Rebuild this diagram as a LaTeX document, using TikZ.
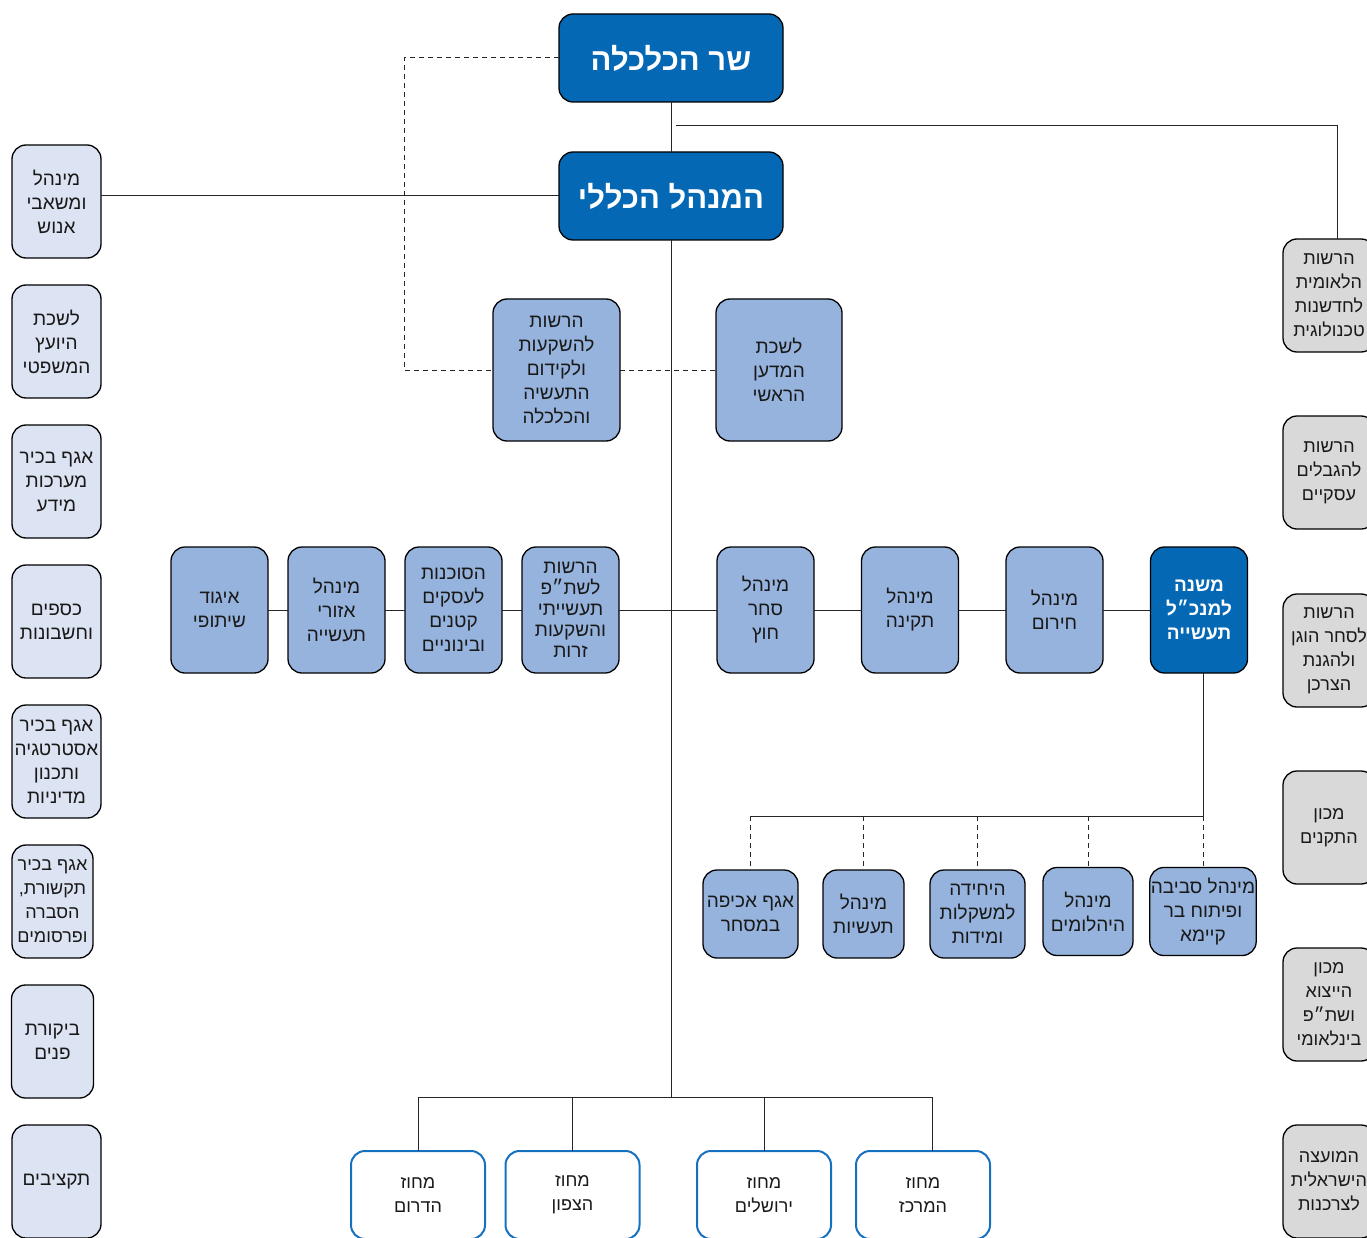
\documentclass[tikz,border=0pt]{standalone}
\usepackage{fontspec}
\usepackage{xcolor}
\usepackage{tikz}
\newfontfamily\hebfont[Script=Hebrew]{Liberation Sans}
\TeXXeTstate=1
\usetikzlibrary{positioning,calc}
\definecolor{deepblue}{HTML}{0468B4}
\definecolor{unitblue}{HTML}{95B3DC}
\definecolor{paleblue}{HTML}{DCE3F2}
\definecolor{palegray}{HTML}{D9D9D9}
\definecolor{rimblue}{HTML}{1570C0}
\newcommand{\rl}[1]{\beginR #1\endR}

\begin{document}
\begin{tikzpicture}[x=1pt,y=-1pt,
every node/.style={outer sep=0pt,inner sep=1pt,align=center},
box/.style={draw=black,line width=1.3pt,rounded corners=14pt,text=black!90,
  font=\hebfont\fontsize{19}{24}\selectfont},
headbox/.style={box,fill=deepblue,text=white,minimum width=224pt,minimum height=88pt,
  font=\hebfont\bfseries\fontsize{31}{36}\selectfont},
sidebox/.style={box,fill=paleblue,minimum width=89pt,minimum height=113pt},
extbox/.style={box,fill=palegray,minimum width=92pt,minimum height=113pt,
  font=\hebfont\fontsize{18}{24}\selectfont},
unitbox/.style={box,fill=unitblue,minimum width=97pt,minimum height=126pt},
subbox/.style={box,fill=unitblue,minimum height=88pt},
distbox/.style={box,draw=rimblue,line width=2pt,fill=white,minimum width=134pt,minimum height=88pt,
  font=\hebfont\fontsize{18}{24}\selectfont},
link/.style={line width=1pt,draw=black!85},
dotlink/.style={line width=1pt,draw=black!85,dash pattern=on 5pt off 4pt}]
\useasboundingbox (0,0) rectangle (1367,1238);
\clip (0,0) rectangle (1367,1238);

% top of the tree
\node (minister) [headbox] at (671,58) {\rl{שר הכלכלה}};
\node (dg) [headbox] at (671,196) {\rl{המנהל הכללי}};

% left column
\node (hr) [sidebox] at (56.5,201.5) {\rl{מינהל}\\\rl{ומשאבי}\\\rl{אנוש}};
\node (legal) [sidebox] at (56.5,341.5) {\rl{לשכת}\\\rl{היועץ}\\\rl{המשפטי}};
\node (infosys) [sidebox] at (56.5,481.5) {\rl{אגף בכיר}\\\rl{מערכות}\\\rl{מידע}};
\node (finance) [sidebox] at (56.5,621.5) {\rl{כספים}\\\rl{וחשבונות}};
\node (strategy) [sidebox] at (56.5,761.5) {\rl{אגף בכיר}\\\rl{אסטרטגיה}\\\rl{ותכנון}\\\rl{מדיניות}};
\node (comms) [sidebox,minimum width=81pt,font=\hebfont\fontsize{18}{24}\selectfont] at (52.5,901.5)
  {\rl{אגף בכיר}\\\rl{תקשורת,}\\\rl{הסברה}\\\rl{ופרסומים}};
\node (audit) [sidebox,minimum width=82pt] at (52.5,1041.5) {\rl{ביקורת}\\\rl{פנים}};
\node (budget) [sidebox] at (56.5,1181.5) {\rl{תקציבים}};

% right column
\node (innov) [extbox] at (1329,295.5) {\rl{הרשות}\\\rl{הלאומית}\\\rl{לחדשנות}\\\rl{טכנולוגית}};
\node (antitrust) [extbox] at (1329,472.5) {\rl{הרשות}\\\rl{להגבלים}\\\rl{עסקיים}};
\node (consumer) [extbox] at (1329,650.5) {\rl{הרשות}\\\rl{לסחר הוגן}\\\rl{ולהגנת}\\\rl{הצרכן}};
\node (sii) [extbox] at (1329,827.5) {\rl{מכון}\\\rl{התקנים}};
\node (export) [extbox] at (1329,1004.5) {\rl{מכון}\\\rl{הייצוא}\\\rl{ושת״פ}\\\rl{בינלאומי}};
\node (council) [extbox] at (1329,1181.5) {\rl{המועצה}\\\rl{הישראלית}\\\rl{לצרכנות}};

% staff units under the director general
\node (invest) [unitbox,minimum width=127pt,minimum height=142pt] at (556.5,370)
  {\rl{הרשות}\\\rl{להשקעות}\\\rl{ולקידום}\\\rl{התעשיה}\\\rl{והכלכלה}};
\node (scientist) [unitbox,minimum width=126pt,minimum height=142pt] at (779,370)
  {\rl{לשכת}\\\rl{המדען}\\\rl{הראשי}};

% middle row
\node (coop) [unitbox] at (219.5,610) {\rl{איגוד}\\\rl{שיתופי}};
\node (zones) [unitbox] at (336.5,610) {\rl{מינהל}\\\rl{אזורי}\\\rl{תעשייה}};
\node (smb) [unitbox] at (453.5,610) {\rl{הסוכנות}\\\rl{לעסקים}\\\rl{קטנים}\\\rl{ובינוניים}};
\node (fdi) [unitbox,font=\hebfont\fontsize{19}{21}\selectfont] at (570.5,610)
  {\rl{הרשות}\\\rl{לשת״פ}\\\rl{תעשייתי}\\\rl{והשקעות}\\\rl{זרות}};
\node (trade) [unitbox] at (765.5,610) {\rl{מינהל}\\\rl{סחר}\\\rl{חוץ}};
\node (standards) [unitbox] at (910,610) {\rl{מינהל}\\\rl{תקינה}};
\node (emergency) [unitbox] at (1054.5,610) {\rl{מינהל}\\\rl{חירום}};
\node (deputy) [unitbox,fill=deepblue,text=white,font=\hebfont\bfseries\fontsize{19}{24}\selectfont]
  at (1199,610) {\rl{משנה}\\\rl{למנכ״ל}\\\rl{תעשייה}};

% units under the deputy
\node (enforce) [subbox,minimum width=95pt] at (750.5,914) {\rl{אגף אכיפה}\\\rl{במסחר}};
\node (industries) [subbox,minimum width=81pt] at (863.5,914) {\rl{מינהל}\\\rl{תעשיות}};
\node (weights) [subbox,minimum width=95pt] at (977.5,914) {\rl{היחידה}\\\rl{למשקלות}\\\rl{ומידות}};
\node (diamonds) [subbox,minimum width=90pt] at (1088,911.5) {\rl{מינהל}\\\rl{היהלומים}};
\node (environ) [subbox,minimum width=104pt] at (1203,911.5) {\rl{מינהל סביבה}\\\rl{ופיתוח בר}\\\rl{קיימא}};

% districts
\node (south) [distbox] at (418,1195) {\rl{מחוז}\\\rl{הדרום}};
\node (north) [distbox] at (572.5,1195) {\rl{מחוז}\\\rl{הצפון}};
\node (jlm) [distbox] at (764,1195) {\rl{מחוז}\\\rl{ירושלים}};
\node (central) [distbox] at (923,1195) {\rl{מחוז}\\\rl{המרכז}};

% connectors
\coordinate (trunk) at (671,1097);
\coordinate (rtop) at (676,126);
\coordinate (rcorner) at (1337,126);
\coordinate (dbend) at (404,58);
\coordinate (split) at (1203,816);

\draw [link] (minister) -- (dg);
\draw [link] (dg.south) -- (trunk);
\draw [link] (rtop) -- (rcorner) -- (rcorner |- innov.north);
\draw [link] (dg.west) -- (dg.west -| hr.east);
\draw [dotlink] (minister.west) -- (dbend) |- (invest.west);
\draw [dotlink] (invest.east) -- (scientist.west);

\draw [link] (coop) -- (zones) -- (smb) -- (fdi) -- (trade) -- (standards) -- (emergency) -- (deputy);

\draw [link] (deputy.south -| split) -- (split) -- (split -| enforce.north);
\foreach \u in {enforce,industries,weights,diamonds,environ}
  \draw [dotlink] (split -| \u.north) -- (\u.north);

\draw [link] (south.north |- trunk) -- ([xshift=9pt]central.north |- trunk);
\foreach \d in {south,north,jlm}
  \draw [link] (\d.north |- trunk) -- (\d.north);
\draw [link] ([xshift=9pt]central.north |- trunk) -- ([xshift=9pt]central.north);
\end{tikzpicture}
\end{document}
